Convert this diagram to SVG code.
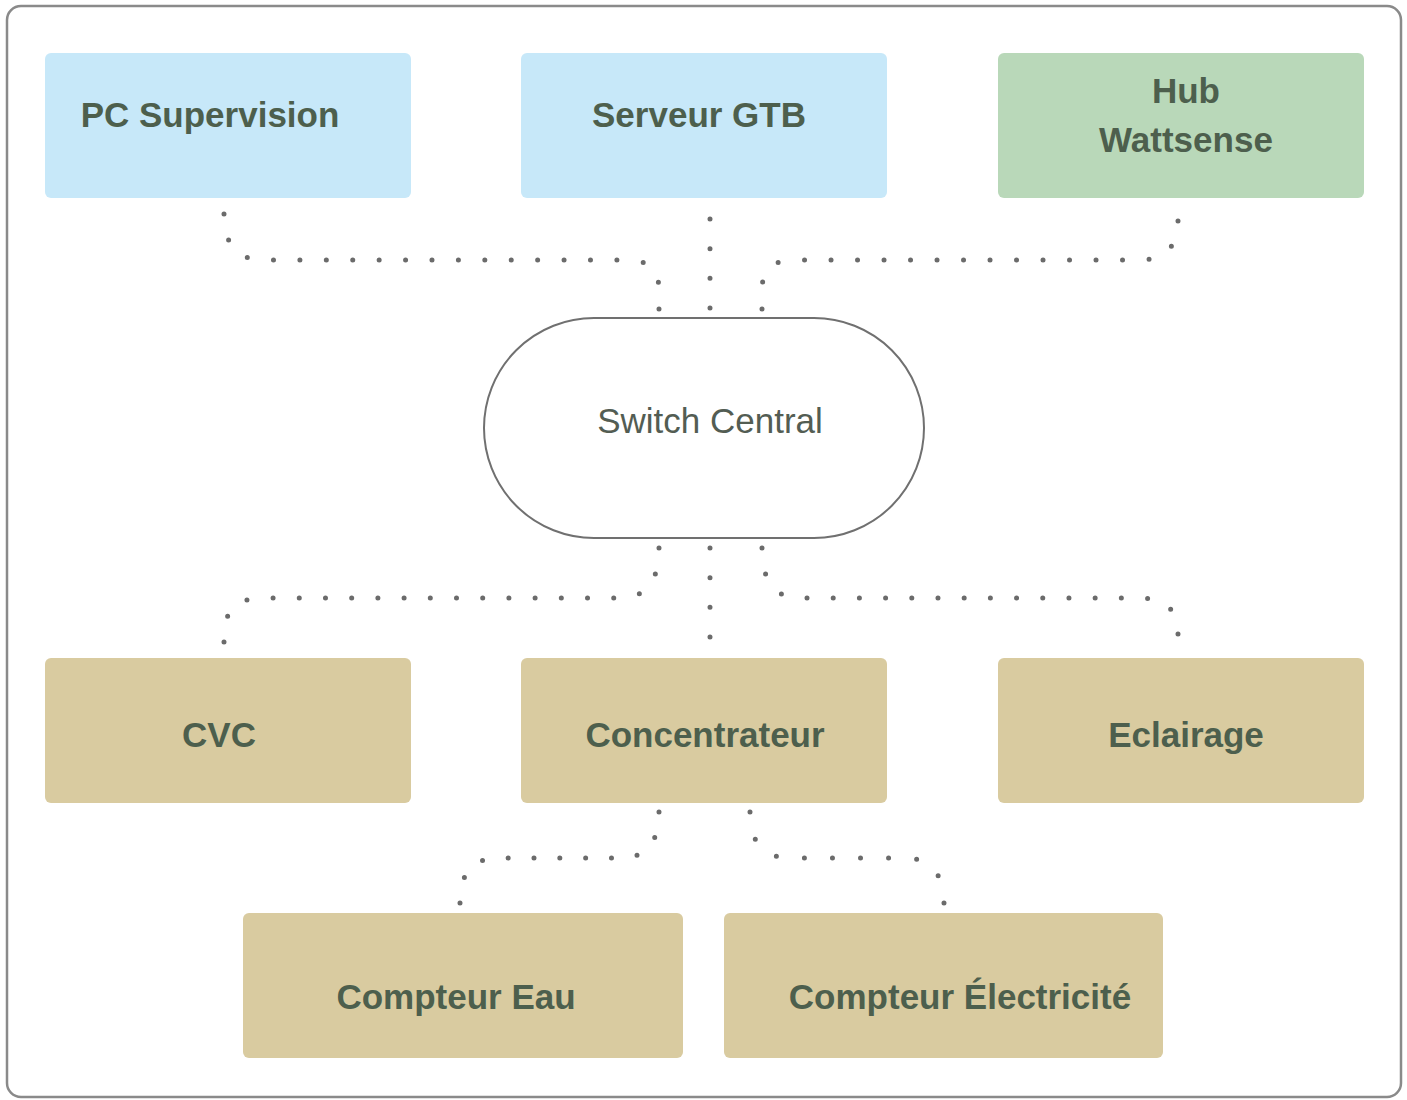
<svg xmlns="http://www.w3.org/2000/svg" width="1407" height="1100" viewBox="0 0 1407 1100">
<style>
.blue{fill:#c7e8f9}
.green{fill:#b9d8b9}
.tan{fill:#d9cba0}
.lbl{font-family:"Liberation Sans",Arial,sans-serif;font-weight:bold;font-size:35px;fill:#4d5f4d;text-anchor:middle}
.lblr{font-family:"Liberation Sans",Arial,sans-serif;font-size:35px;fill:#535d53;text-anchor:middle}
.dot{fill:none;stroke:#6b6b6b;stroke-width:5;stroke-linecap:round;stroke-dasharray:0 0.9999}
</style>
<rect x="0" y="0" width="1407" height="1100" fill="#ffffff"/>
<rect x="7" y="6" width="1394" height="1091" rx="14" fill="#ffffff" stroke="#8a8a8a" stroke-width="2.5"/>
<g id="connectors">
<path class="dot" pathLength="19" d="M224,214 Q224,260 264,260 L628,260 Q659,260 659,290 L659,309"/>
<path class="dot" pathLength="3" d="M710,219 L710,308"/>
<path class="dot" pathLength="18" d="M1178,221 Q1178,260 1138,260 L794,260 Q762,260 762,290 L762,309"/>
<path class="dot" pathLength="19" d="M659,548 Q659,598 620,598 L262,598 Q224,598 224,636 L224,642"/>
<path class="dot" pathLength="3" d="M710,548 L710,637"/>
<path class="dot" pathLength="18" d="M762,548 Q762,598 800,598 L1140,598 Q1178,598 1178,634"/>
<path class="dot" pathLength="10" d="M659,812 Q659,858 620,858 L498,858 Q460,858 460,903"/>
<path class="dot" pathLength="9" d="M750,812 Q750,858 790,858 L905,858 Q943,858 944,903"/>
</g>
<g id="pc-supervision">
<rect class="blue" x="45" y="53" width="366" height="145" rx="6"/>
<text class="lbl" x="210" y="127">PC Supervision</text>
</g>
<g id="serveur-gtb">
<rect class="blue" x="521" y="53" width="366" height="145" rx="6"/>
<text class="lbl" x="699" y="127">Serveur GTB</text>
</g>
<g id="hub-wattsense">
<rect class="green" x="998" y="53" width="366" height="145" rx="6"/>
<text class="lbl" x="1186" y="103">Hub</text>
<text class="lbl" x="1186" y="152">Wattsense</text>
</g>
<g id="switch-central">
<rect x="484" y="318" width="440" height="220" rx="110" fill="#ffffff" stroke="#707070" stroke-width="2"/>
<text class="lblr" x="710" y="433">Switch Central</text>
</g>
<g id="cvc">
<rect class="tan" x="45" y="658" width="366" height="145" rx="6"/>
<text class="lbl" x="219" y="747">CVC</text>
</g>
<g id="concentrateur">
<rect class="tan" x="521" y="658" width="366" height="145" rx="6"/>
<text class="lbl" x="705" y="747">Concentrateur</text>
</g>
<g id="eclairage">
<rect class="tan" x="998" y="658" width="366" height="145" rx="6"/>
<text class="lbl" x="1186" y="747">Eclairage</text>
</g>
<g id="compteur-eau">
<rect class="tan" x="243" y="913" width="440" height="145" rx="6"/>
<text class="lbl" x="456" y="1009">Compteur Eau</text>
</g>
<g id="compteur-electricite">
<rect class="tan" x="724" y="913" width="439" height="145" rx="6"/>
<text class="lbl" x="960" y="1009">Compteur Électricité</text>
</g>
</svg>
